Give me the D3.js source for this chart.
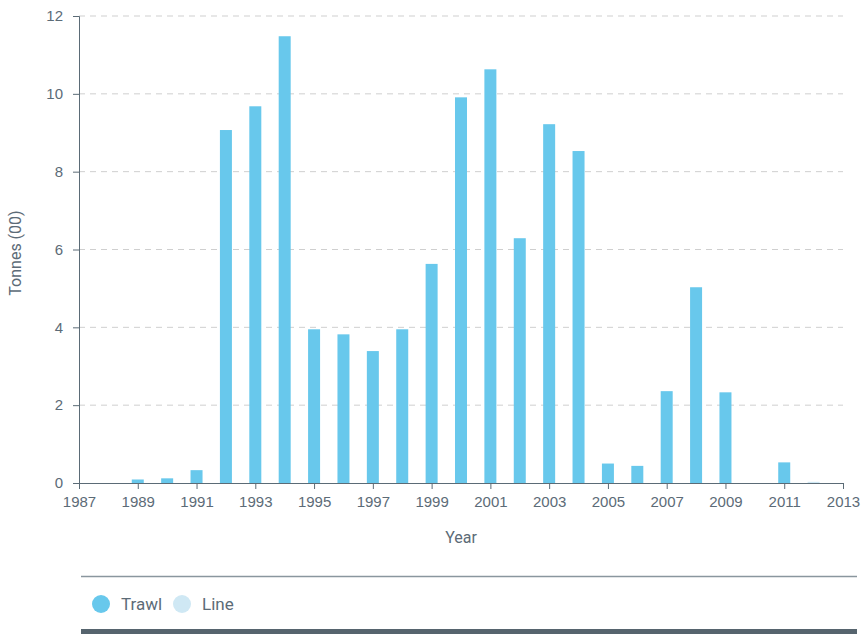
<!DOCTYPE html>
<html>
<head>
<meta charset="utf-8">
<script src="https://cdn.jsdelivr.net/npm/d3@7"></script>
<style>
  body { margin: 0; background: #fff; }
  svg { display: block; font-family: Roboto, sans-serif; }
  .axis text { fill: #5c6b77; font-size: 15px; }
  .axis path, .axis line { stroke: #5b6b76; }
  .grid line { stroke: #cfcfcf; stroke-dasharray: 6,5; }
  .label { fill: #5c6b77; font-size: 16px; }
  .legend text { fill: #5c6b77; font-size: 17px; }
</style>
</head>
<body>
<div id="viz"></div>
<script>
// Width and height
var w = 861;
var h = 634;

var years = [1989, 1990, 1991, 1992, 1993, 1994, 1995, 1996, 1997, 1998, 1999, 2000,
             2001, 2002, 2003, 2004, 2005, 2006, 2007, 2008, 2009, 2010, 2011, 2012];
var trawl = [0.09, 0.12, 0.33, 9.07, 9.68, 11.48, 3.95, 3.82, 3.39, 3.95, 5.63, 9.91,
             10.63, 6.29, 9.22, 8.53, 0.50, 0.44, 2.36, 5.03, 2.33, 0, 0.53, 0];
var line = [0, 0, 0, 0, 0, 0, 0, 0, 0, 0, 0, 0,
            0, 0, 0, 0, 0, 0, 0, 0, 0, 0, 0, 0.03];
var seriesNames = ["Trawl", "Line"];
var yTicks = [0, 2, 4, 6, 8, 10, 12];
var xTicks = [1987, 1989, 1991, 1993, 1995, 1997, 1999, 2001, 2003, 2005, 2007, 2009, 2011, 2013];

var margin = {top: 16, left: 79, right: 18, bottom: 151};

var color = d3.scaleOrdinal()
            .domain(seriesNames)
            .range(['#68c8ec', '#cfe8f4']);

var x = d3.scaleLinear()
          .domain([1987, 2013])
          .range([margin.left, w - margin.right]);

var y = d3.scaleLinear()
          .domain([0, 12])
          .range([h - margin.bottom, margin.top]);

var barWidth = 12;

var svg = d3.select("#viz")
            .append("svg")
            .attr("width", w)
            .attr("height", h);

// gridlines
svg.append("g")
   .attr("class", "grid")
   .selectAll("line")
   .data(yTicks.filter(function(d) { return d > 0; }))
   .enter()
   .append("line")
   .attr("x1", margin.left)
   .attr("x2", w - margin.right)
   .attr("y1", function(d) { return y(d); })
   .attr("y2", function(d) { return y(d); });

// stacked bars
var table = years.map(function(yr, i) {
    return {year: yr, Trawl: trawl[i], Line: line[i]};
});
var stack = d3.stack().keys(seriesNames)(table);

svg.selectAll("g.series")
   .data(stack)
   .enter()
   .append("g")
   .attr("class", "series")
   .attr("fill", function(d) { return color(d.key); })
   .selectAll("rect")
   .data(function(d) { return d; })
   .enter()
   .append("rect")
   .attr("x", function(d) { return x(d.data.year) - barWidth / 2; })
   .attr("width", barWidth)
   .attr("y", function(d) { return y(d[1]); })
   .attr("height", function(d) { return y(d[0]) - y(d[1]); });

// axes
svg.append("g")
   .attr("class", "axis")
   .attr("transform", "translate(0," + y(0) + ")")
   .call(d3.axisBottom(x).tickValues(xTicks).tickFormat(d3.format("d")).tickSizeOuter(6).tickPadding(7));

svg.append("g")
   .attr("class", "axis")
   .attr("transform", "translate(" + margin.left + ",0)")
   .call(d3.axisLeft(y).tickValues(yTicks).tickSizeOuter(6).tickPadding(10));

// axis titles
svg.append("text")
   .attr("class", "label")
   .attr("text-anchor", "middle")
   .attr("transform", "translate(" + 21 + "," + 253 + ") rotate(-90)")
   .text("Tonnes (00)");

svg.append("text")
   .attr("class", "label")
   .attr("text-anchor", "middle")
   .attr("x", 461)
   .attr("y", 543)
   .text("Year");

// legend
var legend = svg.append("g").attr("class", "legend");

legend.append("line")
      .attr("x1", 81).attr("x2", 857)
      .attr("y1", 576.5).attr("y2", 576.5)
      .attr("stroke", "#8a969e")
      .attr("stroke-width", 1.5);

legend.append("rect")
      .attr("x", 81).attr("y", 629)
      .attr("width", 776).attr("height", 5)
      .attr("fill", "#56646e");

var legendX = [101, 182];
var items = legend.selectAll("g.item")
      .data(seriesNames)
      .enter()
      .append("g")
      .attr("class", "item")
      .attr("transform", function(d, i) { return "translate(" + legendX[i] + ",604)"; });

items.append("circle")
     .attr("r", 9)
     .attr("fill", function(d) { return color(d); });

items.append("text")
     .attr("x", 20)
     .attr("dy", "0.35em")
     .text(function(d) { return d; });
</script>
</body>
</html>
